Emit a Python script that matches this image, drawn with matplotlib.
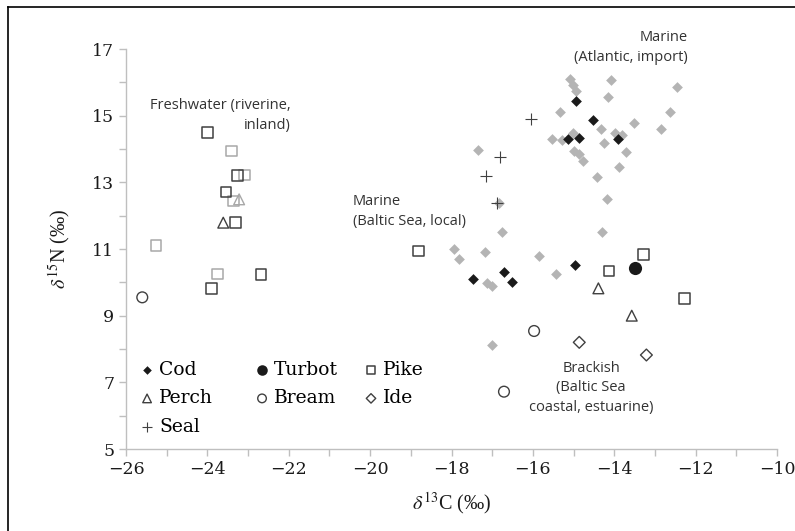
import matplotlib
matplotlib.use("Agg")
import matplotlib.pyplot as plt
from matplotlib.lines import Line2D
from matplotlib.ticker import MultipleLocator, FuncFormatter

# ---- data (d13C, d15N) ----
cod_x = [-14.93, -14.52, -15.13, -14.86, -13.90, -17.47, -16.71, -16.52, -14.97]
cod_y = [15.44, 14.87, 14.29, 14.34, 14.30, 10.10, 10.32, 10.02, 10.52]

cod_other_x = [-15.09, -15.02, -14.93, -14.09, -12.47, -14.16, -15.34, -12.62, -13.52,
               -14.33, -12.84, -15.54, -15.29, -15.01, -13.99, -13.82, -14.25, -13.70,
               -14.99, -14.86, -14.76, -13.89, -14.42, -14.19, -17.34, -16.84, -16.77,
               -14.31, -17.94, -17.82, -17.18, -15.85, -15.44, -17.12, -17.01, -17.01]
cod_other_y = [16.09, 15.92, 15.75, 16.07, 15.87, 15.55, 15.11, 15.11, 14.77,
               14.60, 14.60, 14.29, 14.27, 14.47, 14.47, 14.42, 14.19, 13.92,
               13.94, 13.85, 13.65, 13.47, 13.17, 12.49, 13.97, 12.39, 11.51,
               11.51, 11.00, 10.70, 10.92, 10.80, 10.25, 9.97, 9.89, 8.12]

turbot_x = [-13.48]
turbot_y = [10.42]

pike_x = [-24.00, -23.26, -23.54, -23.30, -22.68, -23.89, -18.82, -13.29, -14.13, -12.28]
pike_y = [14.50, 13.20, 12.71, 11.79, 10.24, 9.82, 10.94, 10.84, 10.34, 9.52]
pike_other_x = [-23.40, -23.09, -23.36, -25.26, -23.76]
pike_other_y = [13.94, 13.22, 12.44, 11.11, 10.25]

perch_x = [-23.61, -14.39, -13.57]
perch_y = [11.79, 9.82, 9.00]
perch_other_x = [-23.22]
perch_other_y = [12.49]

bream_x = [-25.60, -15.97, -16.71]
bream_y = [9.55, 8.54, 6.72]

ide_x = [-14.86, -13.21]
ide_y = [8.20, 7.82]

seal_x = [-16.05, -16.81, -17.16, -16.87]
seal_y = [14.89, 13.77, 13.20, 12.39]

plt.rcParams['mathtext.fontset'] = 'stix'
serif = ['DejaVu Serif']
lab_serif = ['Liberation Serif', 'DejaVu Serif']
sans = ['Open Sans', 'DejaVu Sans']

fig = plt.figure(figsize=(7.95, 5.31), dpi=100)
ax = fig.add_axes([126/795, 82/531, 651/795, 400/531])

dark = '#404040'
light = '#a8a8a8'
gray_d = '#b4b4b4'

ax.scatter(cod_other_x, cod_other_y, marker='D', s=30, color=gray_d, linewidths=0, zorder=2)
ax.scatter(pike_other_x, pike_other_y, marker='s', s=60, facecolors='none', edgecolors=light, linewidths=1.1, zorder=2)
ax.scatter(perch_other_x, perch_other_y, marker='^', s=60, facecolors='none', edgecolors=light, linewidths=1.0, zorder=2)

h_cod = ax.scatter(cod_x, cod_y, marker='D', s=30, color='#1a1a1a', linewidths=0, zorder=3, label='Cod')
h_turbot = ax.scatter(turbot_x, turbot_y, marker='o', s=90, color='#1a1a1a', linewidths=0, zorder=3, label='Turbot')
h_pike = ax.scatter(pike_x, pike_y, marker='s', s=60, facecolors='none', edgecolors=dark, linewidths=1.1, zorder=3, label='Pike')
h_perch = ax.scatter(perch_x, perch_y, marker='^', s=60, facecolors='none', edgecolors=dark, linewidths=1.0, zorder=3, label='Perch')
h_bream = ax.scatter(bream_x, bream_y, marker='o', s=60, facecolors='none', edgecolors=dark, linewidths=1.0, zorder=3, label='Bream')
h_ide = ax.scatter(ide_x, ide_y, marker='D', s=36, facecolors='none', edgecolors=dark, linewidths=1.0, zorder=3, label='Ide')
h_seal = ax.scatter(seal_x, seal_y, marker='+', s=70, color=dark, linewidths=0.8, zorder=4, label='Seal')

ax.set_xlim(-26, -10)
ax.set_ylim(5, 17)
ax.xaxis.set_major_locator(MultipleLocator(1))
ax.yaxis.set_major_locator(MultipleLocator(1))
ax.xaxis.set_major_formatter(FuncFormatter(lambda v, p: f"\u2212{abs(int(round(v)))}" if int(round(v)) % 2 == 0 else ""))
ax.yaxis.set_major_formatter(FuncFormatter(lambda v, p: f"{int(round(v))}" if int(round(v)) % 2 == 1 else ""))

for s in ['top', 'right']:
    ax.spines[s].set_visible(False)
for s in ['left', 'bottom']:
    ax.spines[s].set_color('#bfbfbf')
    ax.spines[s].set_linewidth(1.0)
ax.tick_params(axis='both', which='major', direction='out', length=5, width=1.0, color='#bfbfbf',
               labelsize=12.5, labelcolor='#1a1a1a', pad=3.5)
for lab in ax.get_xticklabels() + ax.get_yticklabels():
    lab.set_family(serif)

ax.set_xlabel(r'$\delta^{13}$C (‰)', fontsize=14.5, family=lab_serif, color='#1a1a1a', labelpad=9)
ax.set_ylabel(r'$\delta^{15}$N (‰)', fontsize=14.5, family=lab_serif, color='#1a1a1a', labelpad=14)

# annotations
tc = '#333333'
ax.text(-21.95, 15.0, 'Freshwater (riverine,\ninland)', ha='right', va='center', multialignment='right',
        fontsize=10.5, family=sans, color=tc, linespacing=1.45)
ax.text(-20.42, 12.12, 'Marine\n(Baltic Sea, local)', ha='left', va='center', multialignment='left',
        fontsize=10.5, family=sans, color=tc, linespacing=1.45)
ax.text(-12.19, 17.05, 'Marine\n(Atlantic, import)', ha='right', va='center', multialignment='right',
        fontsize=10.5, family=sans, color=tc, linespacing=1.45, clip_on=False)
ax.text(-14.57, 6.83, 'Brackish\n(Baltic Sea\ncoastal, estuarine)', ha='center', va='center', multialignment='center',
        fontsize=10.5, family=sans, color=tc, linespacing=1.45)

# legend: three columns
columns = [[h_cod, h_perch, h_seal], [h_turbot, h_bream], [h_pike, h_ide]]
col_x = [0.0194, 0.196, 0.3634]
legs = []
for hs, cx in zip(columns, col_x):
    lg = ax.legend(handles=hs, labels=[h.get_label() for h in hs], frameon=False,
                   loc='upper left', bbox_to_anchor=(cx, 0.22), prop={'family': serif, 'size': 13.5},
                   handletextpad=0.2, labelspacing=0.55, handlelength=0.9,
                   scatterpoints=1, markerscale=0.8, borderaxespad=0, borderpad=0)
    legs.append(lg)
for lg in legs[:-1]:
    ax.add_artist(lg)

# outer frame (left and top edges)
x0 = 8 / 795
y0 = 1 - 7 / 531
fig.add_artist(Line2D([x0, x0], [0, y0], transform=fig.transFigure, color='black', lw=1.2))
fig.add_artist(Line2D([x0, 1], [y0, y0], transform=fig.transFigure, color='black', lw=1.2))

fig.savefig('out.png', dpi=100)
